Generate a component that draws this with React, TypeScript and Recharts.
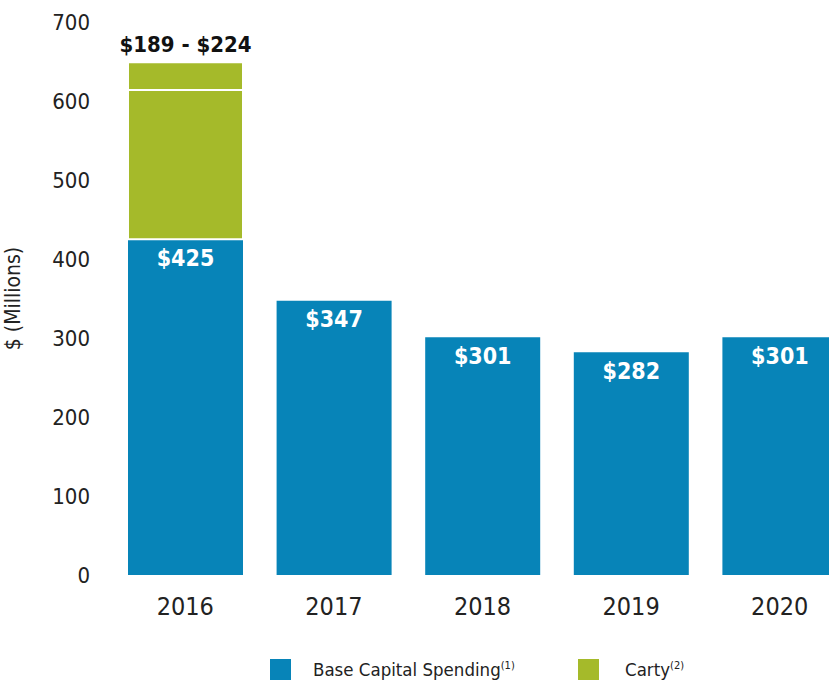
import React from 'react';
import { BarChart, Bar, XAxis, YAxis, Legend, LabelList } from 'recharts';

const years = ['2016', '2017', '2018', '2019', '2020'];
const baseSpending = [425, 347, 301, 282, 301];
const cartyLow = [189, 0, 0, 0, 0];
const cartyHigh = [224, 0, 0, 0, 0];
const yTicks = [0, 100, 200, 300, 400, 500, 600, 700];

const BLUE = '#0784b8';
const GREEN = '#a5ba2a';
const FONT = '"DejaVu Sans Condensed", "DejaVu Sans", sans-serif';

const data = years.map((year, i) => ({
  year,
  base: baseSpending[i],
  cartyLow: cartyLow[i] || null,
  cartyExtra: cartyHigh[i] ? cartyHigh[i] - cartyLow[i] : null,
  rangeLabel: cartyHigh[i] ? `$${cartyLow[i]} - $${cartyHigh[i]}` : '',
}));

const RangeLabel = (props: any) => {
  const { x, y, width, value } = props;
  if (!value) return null;
  return (
    <text x={x + width / 2} y={y - 10} textAnchor="middle" fill="#111"
      fontFamily={FONT} fontWeight="bold" fontSize={22}>
      {value}
    </text>
  );
};

const LegendContent = () => (
  <div style={{ display: 'flex', justifyContent: 'flex-start', alignItems: 'center', fontFamily: FONT, fontSize: 18.5, color: '#222', paddingLeft: 270 }}>
    <span style={{ display: 'inline-block', width: 21, height: 21, background: BLUE, marginRight: 22 }} />
    <span style={{ width: 265 }}>Base Capital Spending<sup style={{ fontSize: 11 }}>(1)</sup></span>
    <span style={{ display: 'inline-block', width: 21, height: 21, background: GREEN, marginRight: 26 }} />
    <span>Carty<sup style={{ fontSize: 11 }}>(2)</sup></span>
  </div>
);

export default function App() {
  return (
    <div style={{ position: 'absolute', left: 0, top: 0, width: 829, height: 687, overflow: 'hidden', background: '#fff' }}>
      <BarChart width={860} height={687} data={data}
        margin={{ top: 22, right: 6, bottom: 0, left: 0 }} barSize={115}>
        <XAxis dataKey="year" axisLine={false} tickLine={false} tickSize={0} tickMargin={22} height={68}
          tick={{ fill: '#222', fontSize: 25, fontFamily: FONT }} interval={0} />
        <YAxis domain={[0, 700]} ticks={yTicks} width={111} axisLine={false} tickLine={false}
          tickSize={0} tickMargin={21} interval={0}
          tick={{ fill: '#222', fontSize: 22, fontFamily: FONT }}
          label={{ value: '$ (Millions)', angle: -90, position: 'insideLeft', dx: 8, dy: 0,
            style: { fill: '#222', fontSize: 21, fontFamily: FONT, textAnchor: 'middle' } }} />
        <Legend verticalAlign="bottom" height={44} wrapperStyle={{ bottom: -16 }} content={<LegendContent />} />
        <Bar dataKey="base" stackId="a" fill={BLUE} isAnimationActive={false}>
          <LabelList dataKey="base" position="insideTop" offset={10} formatter={(v: any) => `$${v}`}
            style={{ fill: '#fff', fontWeight: 'bold', fontSize: 23, fontFamily: FONT }} />
        </Bar>
        <Bar dataKey="cartyLow" stackId="a" fill={GREEN} stroke="#fff" strokeWidth={2} isAnimationActive={false} />
        <Bar dataKey="cartyExtra" stackId="a" fill={GREEN} stroke="#fff" strokeWidth={2} isAnimationActive={false}>
          <LabelList dataKey="rangeLabel" content={<RangeLabel />} />
        </Bar>
      </BarChart>
    </div>
  );
}
